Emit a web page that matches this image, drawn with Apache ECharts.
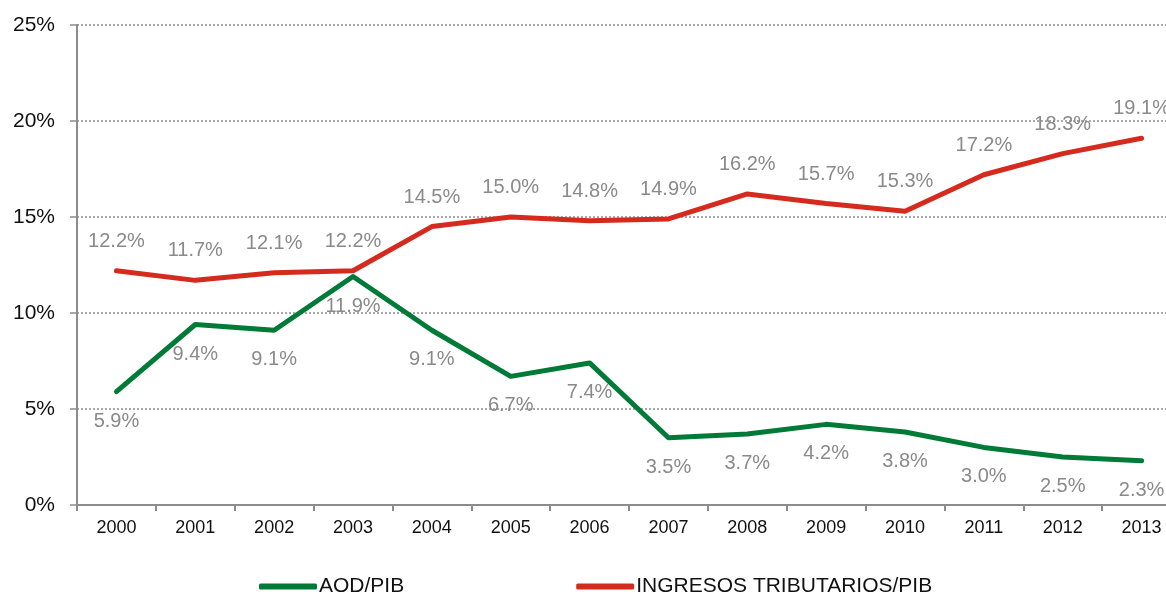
<!DOCTYPE html>
<html>
<head>
<meta charset="utf-8">
<script src="https://cdn.jsdelivr.net/npm/echarts@6/dist/echarts.min.js"></script>
<style>html,body{margin:0;padding:0;background:#fff;}#c{width:1166px;height:599px;}</style>
</head>
<body>
<div id="c"></div>
<script>
var years = ['2000','2001','2002','2003','2004','2005','2006','2007','2008','2009','2010','2011','2012','2013'];
var aod = [5.9, 9.4, 9.1, 11.9, 9.1, 6.7, 7.4, 3.5, 3.7, 4.2, 3.8, 3.0, 2.5, 2.3];
var ingresos = [12.2, 11.7, 12.1, 12.2, 14.5, 15.0, 14.8, 14.9, 16.2, 15.7, 15.3, 17.2, 18.3, 19.1];
var seriesNames = ['AOD/PIB', 'INGRESOS TRIBUTARIOS/PIB'];

var font = 'Liberation Sans';
var chart = echarts.init(document.getElementById('c'), null, {renderer: 'canvas'});
function lbl(pos) {
  return {
    show: true, position: pos, distance: 19,
    color: '#8a8a8a', fontSize: 20, fontFamily: font,
    formatter: function (p) { return p.value.toFixed(1) + '%'; }
  };
}
chart.setOption({
  animation: false,
  grid: {left: 77, top: 25, width: 1104, height: 480, containLabel: false, outerBoundsMode: 'none'},
  legend: {
    bottom: -3, left: 254,
    itemWidth: 58, itemHeight: 6, itemGap: 172,
    icon: 'roundRect',
    textStyle: {fontFamily: font, fontSize: 21, color: '#111', padding: [0, 0, 0, -3]},
    data: seriesNames
  },
  xAxis: {
    type: 'category', data: years, boundaryGap: true,
    axisLine: {lineStyle: {color: '#8c8c8c', width: 2}},
    axisTick: {show: true, length: 6, lineStyle: {color: '#8c8c8c', width: 2}},
    axisLabel: {color: '#111', fontSize: 18, fontFamily: font, margin: 14}
  },
  yAxis: {
    type: 'value', min: 0, max: 25, interval: 5,
    axisLine: {show: true, lineStyle: {color: '#8c8c8c', width: 2}},
    axisTick: {show: true, length: 7, lineStyle: {color: '#8c8c8c', width: 1.5}},
    axisLabel: {color: '#111', fontSize: 21, fontFamily: font, margin: 22, formatter: '{value}%'},
    splitLine: {show: true, lineStyle: {color: '#8c8c8c', width: 1.5, type: [2, 2]}}
  },
  series: [
    {
      name: seriesNames[0], type: 'line', data: aod,
      symbol: 'circle', symbolSize: 1, showSymbol: true, color: '#007A37',
      itemStyle: {color: '#007A37'},
      lineStyle: {width: 5, color: '#007A37', cap: 'round', join: 'round'},
      label: lbl('bottom'), z: 2
    },
    {
      name: seriesNames[1], type: 'line', data: ingresos,
      symbol: 'circle', symbolSize: 1, showSymbol: true, color: '#D52B1E',
      itemStyle: {color: '#D52B1E'},
      lineStyle: {width: 5, color: '#D52B1E', cap: 'round', join: 'round'},
      label: lbl('top'), z: 3
    }
  ]
});
</script>
</body>
</html>
